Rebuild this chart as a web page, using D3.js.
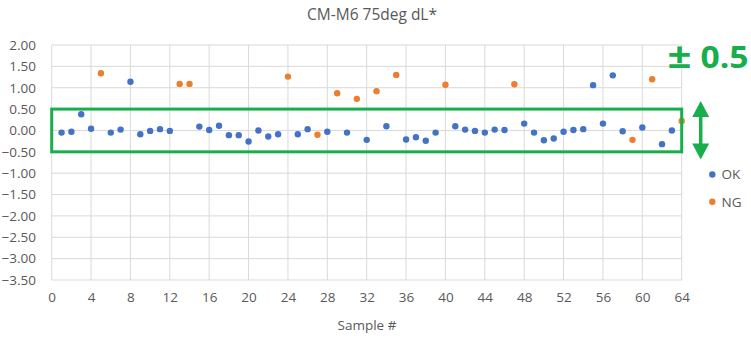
<!DOCTYPE html>
<html>
<head>
<meta charset="utf-8">
<script src="https://cdn.jsdelivr.net/npm/d3@7"></script>
<style>
  html, body { margin: 0; padding: 0; background: #fff; }
  svg { display: block; }
  text { font-family: "Open Sans", "Noto Sans", sans-serif; }
</style>
</head>
<body>
<svg id="chart" width="751" height="340"></svg>
<script>
// ---- data ----
const titleText = "CM-M6 75deg dL*";
const xAxisTitle = "Sample #";
const seriesNames = ["OK", "NG"];
const okSamples = [1,2,3,4,6,7,8,9,10,11,12,15,16,17,18,19,20,21,22,23,25,26,28,30,32,34,36,37,38,39,41,42,43,44,45,46,48,49,50,51,52,53,54,55,56,57,58,60,62,63];
const okValues  = [-0.05,-0.03,0.38,0.04,-0.05,0.02,1.14,-0.09,-0.01,0.03,-0.01,0.09,0.01,0.11,-0.11,-0.11,-0.26,0.00,-0.14,-0.09,-0.09,0.03,-0.03,-0.05,-0.22,0.10,-0.21,-0.16,-0.24,-0.05,0.10,0.02,-0.01,-0.05,0.02,0.01,0.16,-0.05,-0.23,-0.19,-0.03,0.01,0.03,1.06,0.16,1.29,-0.02,0.07,-0.32,0.00];
const ngSamples = [5,13,14,24,27,29,31,33,35,40,47,59,61,64];
const ngValues  = [1.34,1.09,1.09,1.26,-0.10,0.87,0.74,0.92,1.30,1.07,1.08,-0.22,1.20,0.22];
const xTicks = [0,4,8,12,16,20,24,28,32,36,40,44,48,52,56,60,64];
const yTicks = [2.0,1.5,1.0,0.5,0.0,-0.5,-1.0,-1.5,-2.0,-2.5,-3.0,-3.5];
const tolerance = [-0.5, 0.5];
const toleranceLabel = "±0.5";

// ---- setup ----
const svg = d3.select("#chart");
const colors = { OK: "#4472C4", NG: "#ED7D31" };
const green = "#16AF4B";
const x = d3.scaleLinear().domain([0, 64]).range([51.7, 681.7]);
const y = d3.scaleLinear().domain([-3.5, 2]).range([280, 45]);

// gridlines
const grid = svg.append("g");
grid.selectAll("line.h").data(yTicks).join("line")
  .attr("x1", x(0)).attr("x2", x(64))
  .attr("y1", d => y(d)).attr("y2", d => y(d))
  .attr("stroke", "#d9d9d9").attr("stroke-width", 1);
grid.selectAll("line.v").data(xTicks).join("line")
  .attr("y1", y(2)).attr("y2", y(-3.5))
  .attr("x1", d => x(d)).attr("x2", d => x(d))
  .attr("stroke", "#d9d9d9").attr("stroke-width", 1);

// axes (labels only)
const yAxis = d3.axisLeft(y).tickValues(yTicks).tickFormat(d3.format(".2f")).tickSize(0).tickPadding(0);
const gy = svg.append("g").attr("transform", "translate(36,0)").call(yAxis);
gy.select(".domain").remove();
gy.selectAll("text").attr("font-size", 13.5).attr("fill", "#595959")
  .attr("font-family", "'Open Sans', sans-serif");

const xAxis = d3.axisBottom(x).tickValues(xTicks).tickFormat(d3.format("d")).tickSize(0).tickPadding(0);
const gx = svg.append("g").attr("transform", "translate(0,292)").call(xAxis);
gx.select(".domain").remove();
gx.selectAll("text").attr("font-size", 13.5).attr("fill", "#595959")
  .attr("font-family", "'Open Sans', sans-serif");

// points
const okData = okSamples.map((s, i) => ({ s, v: okValues[i] }));
const ngData = ngSamples.map((s, i) => ({ s, v: ngValues[i] }));
svg.append("g").selectAll("circle").data(okData).join("circle")
  .attr("cx", d => x(d.s)).attr("cy", d => y(d.v)).attr("r", 3.2)
  .attr("fill", colors.OK);
svg.append("g").selectAll("circle").data(ngData).join("circle")
  .attr("cx", d => x(d.s)).attr("cy", d => y(d.v)).attr("r", 3.2)
  .attr("fill", colors.NG);

// tolerance box
svg.append("rect")
  .attr("x", x(0)).attr("y", y(tolerance[1]))
  .attr("width", x(64) - x(0)).attr("height", y(tolerance[0]) - y(tolerance[1]))
  .attr("fill", "none").attr("stroke", green).attr("stroke-width", 3);

// double arrow
const ax = 700.7, aTop = 101, aBot = 159.5, hw = 8.5, hh = 16;
svg.append("line").attr("x1", ax).attr("x2", ax).attr("y1", aTop + hh - 2).attr("y2", aBot - hh + 2)
  .attr("stroke", green).attr("stroke-width", 3.5);
svg.append("path").attr("d", `M${ax},${aTop} L${ax+hw},${aTop+hh} L${ax-hw},${aTop+hh} Z`).attr("fill", green);
svg.append("path").attr("d", `M${ax},${aBot} L${ax+hw},${aBot-hh} L${ax-hw},${aBot-hh} Z`).attr("fill", green);

// tolerance label
svg.append("text").attr("x", 667.5).attr("y", 68)
  .attr("font-family", "'DejaVu Sans', sans-serif").attr("font-weight", "bold")
  .attr("font-size", 34).attr("fill", green)
  .attr("textLength", 24).attr("lengthAdjust", "spacingAndGlyphs")
  .text(toleranceLabel.slice(0, 1));
svg.append("text").attr("x", 700.5).attr("y", 68)
  .attr("font-family", "'Liberation Sans', Arial, sans-serif").attr("font-weight", "bold")
  .attr("font-size", 30).attr("fill", green)
  .attr("textLength", 48).attr("lengthAdjust", "spacingAndGlyphs")
  .text(toleranceLabel.slice(1));

// title
svg.append("text").attr("x", 372).attr("y", 20).attr("text-anchor", "middle")
  .attr("font-size", 15.5).attr("fill", "#595959").text(titleText);

// x axis title
svg.append("text").attr("x", 367).attr("y", 330).attr("text-anchor", "middle")
  .attr("font-size", 13.5).attr("fill", "#595959").text(xAxisTitle);

// legend
const leg = svg.append("g");
seriesNames.forEach((n, i) => {
  const yy = 174.5 + i * 27.3;
  leg.append("circle").attr("cx", 712.3).attr("cy", yy).attr("r", 3.2).attr("fill", colors[n]);
  leg.append("text").attr("x", 721.5).attr("y", yy).attr("dy", "0.35em")
    .attr("font-size", 13.5).attr("fill", "#595959").text(n);
});
</script>
</body>
</html>
